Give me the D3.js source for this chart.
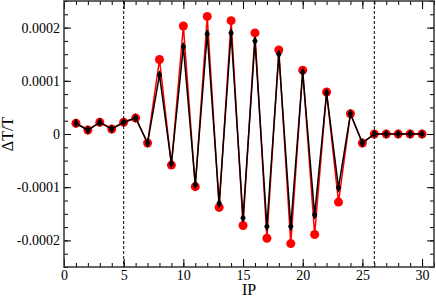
<!DOCTYPE html>
<html>
<head>
<meta charset="utf-8">
<script src="https://cdn.jsdelivr.net/npm/d3@7"></script>
<style>
  body { margin: 0; background: #fff; }
  text { font-family: "Liberation Serif", "Times New Roman", serif; fill: #000; }
</style>
</head>
<body>
<div id="chart"></div>
<script>
// IP index on the x axis
var ip = d3.range(1, 31);

// red circles
var redValues = [2.0e-5, 0.75e-5, 2.2e-5, 0.95e-5, 2.2e-5, 3.0e-5, -1.7e-5, 14.0e-5, -5.85e-5, 20.3e-5,
                 -9.9e-5, 22.1e-5, -13.8e-5, 21.3e-5, -17.2e-5, 19.0e-5, -19.6e-5, 15.8e-5, -20.6e-5, 12.0e-5,
                 -18.9e-5, 7.9e-5, -12.8e-5, 3.8e-5, -1.7e-5, 0, 0, 0, 0, 0];

// black diamonds
var blackValues = [2.0e-5, 0.75e-5, 2.2e-5, 0.95e-5, 2.2e-5, 3.0e-5, -1.7e-5, 11.1e-5, -5.6e-5, 16.4e-5,
                   -9.5e-5, 18.8e-5, -13.0e-5, 19.0e-5, -15.8e-5, 17.5e-5, -17.4e-5, 15.0e-5, -17.4e-5, 11.6e-5,
                   -15.2e-5, 7.7e-5, -10.1e-5, 3.8e-5, -1.7e-5, 0, 0, 0, 0, 0];

var xTicks = [0, 5, 10, 15, 20, 25, 30],
    xTickLabels = ["0", "5", "10", "15", "20", "25", "30"];
var yTicks = [-0.0002, -0.0001, 0, 0.0001, 0.0002],
    yTickLabels = ["-0.0002", "-0.0001", "0", "0.0001", "0.0002"];
var markerLines = [5, 26];

var width = 436,
    height = 297;
var margin = {top: 1, right: 2, bottom: 30, left: 64};

var svg = d3.select("#chart").append("svg")
    .attr("width", width)
    .attr("height", height);

var x = d3.scaleLinear()
    .domain([0, 31])
    .range([margin.left, width - margin.right]);

var y = d3.scaleLinear()
    .domain([-0.00025, 0.00025])
    .range([height - margin.bottom, margin.top]);

var xMinor = d3.range(0, 32),
    yMinor = d3.range(-10, 11).map(function(d) { return d * 0.000025; });

function style(g) {
  g.select(".domain").remove();
  g.selectAll("line").attr("stroke", "#000");
  g.selectAll("text").style("font-size", "14px");
}

// minor ticks, all four sides
svg.append("g").attr("transform", "translate(0," + y.range()[0] + ")")
  .call(d3.axisBottom(x).tickValues(xMinor).tickSize(-4).tickFormat(""))
  .call(style);
svg.append("g").attr("transform", "translate(0," + y.range()[1] + ")")
  .call(d3.axisTop(x).tickValues(xMinor).tickSize(-4).tickFormat(""))
  .call(style);
svg.append("g").attr("transform", "translate(" + x.range()[0] + ",0)")
  .call(d3.axisLeft(y).tickValues(yMinor).tickSize(-4).tickFormat(""))
  .call(style);
svg.append("g").attr("transform", "translate(" + x.range()[1] + ",0)")
  .call(d3.axisRight(y).tickValues(yMinor).tickSize(-4).tickFormat(""))
  .call(style);

// major ticks
svg.append("g").attr("transform", "translate(0," + y.range()[0] + ")")
  .call(d3.axisBottom(x).tickValues(xTicks).tickSize(-8).tickPadding(3)
    .tickFormat(function(d, i) { return xTickLabels[i]; }))
  .call(style);
svg.append("g").attr("transform", "translate(0," + y.range()[1] + ")")
  .call(d3.axisTop(x).tickValues(xTicks).tickSize(-8).tickFormat(""))
  .call(style);
svg.append("g").attr("transform", "translate(" + x.range()[0] + ",0)")
  .call(d3.axisLeft(y).tickValues(yTicks).tickSize(-7).tickPadding(4)
    .tickFormat(function(d, i) { return yTickLabels[i]; }))
  .call(style);
svg.append("g").attr("transform", "translate(" + x.range()[1] + ",0)")
  .call(d3.axisRight(y).tickValues(yTicks).tickSize(-7).tickFormat(""))
  .call(style);

// frame
svg.append("rect")
  .attr("x", x.range()[0])
  .attr("y", y.range()[1])
  .attr("width", x.range()[1] - x.range()[0])
  .attr("height", y.range()[0] - y.range()[1])
  .attr("fill", "none")
  .attr("stroke", "#333")
  .attr("stroke-width", 1.5);

// dashed markers
svg.selectAll("line.marker")
  .data(markerLines)
  .enter().append("line")
  .attr("class", "marker")
  .attr("x1", function(d) { return x(d); })
  .attr("x2", function(d) { return x(d); })
  .attr("y1", y.range()[1])
  .attr("y2", y.range()[0])
  .attr("stroke", "#000")
  .attr("stroke-width", 1)
  .attr("stroke-dasharray", "3,2");

var line = d3.line()
    .x(function(d, i) { return x(ip[i]); })
    .y(function(d) { return y(d); });

svg.append("path")
  .datum(redValues)
  .attr("d", line)
  .attr("fill", "none")
  .attr("stroke", "#ff0000")
  .attr("stroke-width", 1.5);

svg.selectAll("circle.red")
  .data(redValues)
  .enter().append("circle")
  .attr("class", "red")
  .attr("cx", function(d, i) { return x(ip[i]); })
  .attr("cy", function(d) { return y(d); })
  .attr("r", 4.5)
  .attr("fill", "#ff0000");

svg.append("path")
  .datum(blackValues)
  .attr("d", line)
  .attr("fill", "none")
  .attr("stroke", "#000")
  .attr("stroke-width", 1.5);

svg.selectAll("path.diamond")
  .data(blackValues)
  .enter().append("path")
  .attr("class", "diamond")
  .attr("transform", function(d, i) { return "translate(" + x(ip[i]) + "," + y(d) + ")"; })
  .attr("d", d3.symbol().type(d3.symbolDiamond).size(26))
  .attr("fill", "#000");

// axis titles
svg.append("text")
  .attr("x", (x.range()[0] + x.range()[1]) / 2)
  .attr("y", 295)
  .attr("text-anchor", "middle")
  .style("font-size", "16px")
  .text("IP");

svg.append("text")
  .attr("transform", "translate(13," + ((y.range()[0] + y.range()[1]) / 2) + ") rotate(-90)")
  .attr("text-anchor", "middle")
  .style("font-size", "16px")
  .text("ΔT/T");
</script>
</body>
</html>
